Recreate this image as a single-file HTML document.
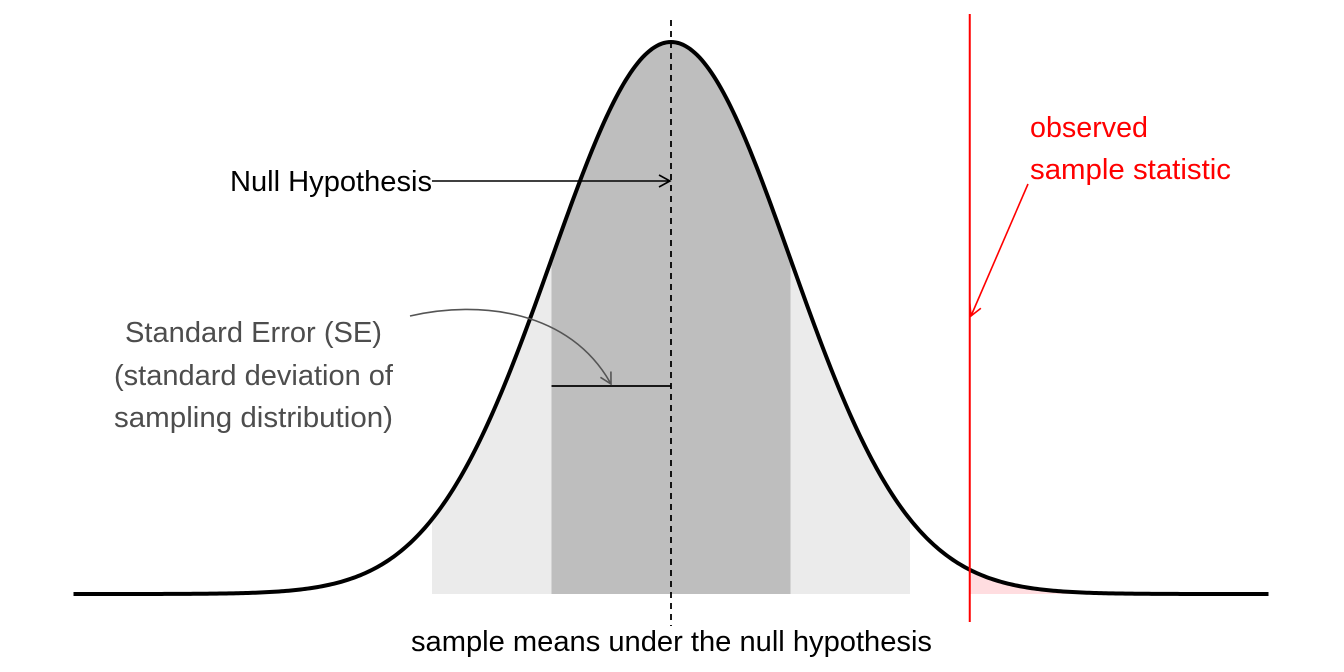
<!DOCTYPE html>
<html><head><meta charset="utf-8">
<style>
html,body{margin:0;padding:0;background:#fff;}
svg{display:block;font-family:"Liberation Sans",sans-serif;}
</style></head>
<body>
<svg id="chart" width="1344" height="672" viewBox="0 0 1344 672">
<defs>
<marker id="ab" markerWidth="14" markerHeight="14" refX="12" refY="7" orient="auto" markerUnits="userSpaceOnUse"><path d="M1,1 L12,7 L1,13" fill="none" stroke="#000" stroke-width="1.6"/></marker>
<marker id="ag" markerWidth="14" markerHeight="14" refX="12" refY="7" orient="auto" markerUnits="userSpaceOnUse"><path d="M1,1 L12,7 L1,13" fill="none" stroke="#555" stroke-width="1.6"/></marker>
<marker id="ar" markerWidth="14" markerHeight="14" refX="12" refY="7" orient="auto" markerUnits="userSpaceOnUse"><path d="M1,1 L12,7 L1,13" fill="none" stroke="#f00" stroke-width="1.6"/></marker>
</defs>
<g id="marks"></g>
<text x="230" y="191" font-size="29" textLength="202" lengthAdjust="spacingAndGlyphs" fill="#000">Null Hypothesis</text>
<line x1="432" y1="181" x2="670" y2="181" stroke="#000" stroke-width="1.6" marker-end="url(#ab)"/>
<g fill="#4d4d4d" font-size="29">
<text x="125" y="342" textLength="257" lengthAdjust="spacingAndGlyphs">Standard Error (SE)</text>
<text x="114" y="385" textLength="279" lengthAdjust="spacingAndGlyphs">(standard deviation of</text>
<text x="114" y="427" textLength="279" lengthAdjust="spacingAndGlyphs">sampling distribution)</text>
</g>
<path d="M410,316 C480,300 570,310 611,384" fill="none" stroke="#555" stroke-width="1.6" marker-end="url(#ag)"/>
<g fill="#f00" font-size="29">
<text x="1030" y="137" textLength="118" lengthAdjust="spacingAndGlyphs">observed</text>
<text x="1030" y="179" textLength="201" lengthAdjust="spacingAndGlyphs">sample statistic</text>
</g>
<line x1="1028" y1="184" x2="971" y2="316" stroke="#f00" stroke-width="1.6" marker-end="url(#ar)"/>
<text x="411" y="651" font-size="29" textLength="521" lengthAdjust="spacingAndGlyphs" fill="#000">sample means under the null hypothesis</text>
</svg>
<script>
// data (in SD units relative to null mean)
const nullMean = [0];
const bandInner = [-1, 1];
const bandOuter = [-2, 2];
const observedStat = [2.5];
const curveRange = [-5, 5];

const cx = 671, sdPx = 119.5, baseY = 594, peakH = 552;
const X = z => cx + z * sdPx;
const Y = z => baseY - peakH * Math.exp(-z * z / 2);
const g = document.getElementById('marks');
const NS = 'http://www.w3.org/2000/svg';
function mk(tag, attrs, name){
  const e = document.createElementNS(NS, tag);
  for (const k in attrs) e.setAttribute(k, attrs[k]);
  
  
  g.appendChild(e); return e;
}
function area(a, b){
  let d = 'M' + X(a) + ',' + baseY;
  for (let z = a; z <= b + 1e-9; z += 0.02) d += ' L' + X(z).toFixed(2) + ',' + Y(z).toFixed(2);
  d += ' L' + X(b) + ',' + baseY + ' Z';
  return d;
}
mk('path', {d: area(bandOuter[0], bandOuter[1]), fill: '#ebebeb'}, 'two-se-band');
mk('path', {d: area(bandInner[0], bandInner[1]), fill: '#bebebe'}, 'one-se-band');
mk('path', {d: area(observedStat[0], curveRange[1]), fill: '#ffdde0'}, 'p-value-tail');
let d = '';
for (let z = curveRange[0]; z <= curveRange[1] + 1e-9; z += 0.02) d += (d ? ' L' : 'M') + X(z).toFixed(2) + ',' + Y(z).toFixed(2);
mk('path', {d: d, fill: 'none', stroke: '#000', 'stroke-width': 4}, 'density-curve');
mk('line', {x1: X(bandInner[0]), y1: 386, x2: X(nullMean[0]), y2: 386, stroke: '#000', 'stroke-width': 1.8}, 'se-segment');
mk('line', {x1: X(nullMean[0]), y1: 20, x2: X(nullMean[0]), y2: 626, stroke: '#000', 'stroke-width': 1.8, 'stroke-dasharray': '6,5'}, 'null-mean-line');
mk('line', {x1: X(observedStat[0]), y1: 14, x2: X(observedStat[0]), y2: 622, stroke: '#f00', 'stroke-width': 2}, 'observed-line');
</script>
</body></html>
